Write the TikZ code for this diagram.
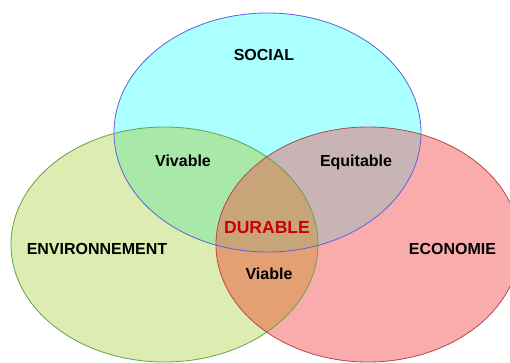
\documentclass[tikz,border=0pt]{standalone}
\usepackage{fontspec}
\setmainfont{Liberation Sans}
\definecolor{socfill}{RGB}{170,255,255}
\definecolor{envfill}{RGB}{221,236,176}
\definecolor{ecofill}{RGB}{250,172,172}
\definecolor{vivfill}{RGB}{168,232,168}
\definecolor{equfill}{RGB}{200,180,180}
\definecolor{viafill}{RGB}{228,160,115}
\definecolor{durfill}{RGB}{200,165,120}
\definecolor{socline}{RGB}{95,95,225}
\definecolor{envline}{RGB}{95,165,75}
\definecolor{ecoline}{RGB}{175,75,75}
\definecolor{durtext}{RGB}{205,0,0}
\begin{document}
\begin{tikzpicture}[x=1pt,y=1pt,
  lbl/.style={font=\bfseries\fontsize{16}{16}\selectfont, inner sep=0pt, text height=11.5pt, text depth=0pt},
  rim/.style={line width=0.8pt}]
\useasboundingbox (0,0) rectangle (510,362);
\coordinate (S) at (267.5,229.5);
\coordinate (Env) at (164.5,117.5);
\coordinate (Eco) at (368,117.5);
\def\soc{(S) ellipse [x radius=153.5pt, y radius=119.5pt]}
\def\env{(Env) ellipse [x radius=153.5pt, y radius=117.5pt]}
\def\eco{(Eco) ellipse [x radius=152pt, y radius=117.5pt]}
% plain areas
\fill[socfill] \soc;
\fill[envfill] \env;
\fill[ecofill] \eco;
% overlaps
\begin{scope} \clip \soc; \fill[vivfill] \env; \end{scope}
\begin{scope} \clip \soc; \fill[equfill] \eco; \end{scope}
\begin{scope} \clip \env; \fill[viafill] \eco; \end{scope}
\begin{scope} \clip \soc; \clip \env; \fill[durfill] \eco; \end{scope}
% rims
\draw[rim, envline] \env;
\draw[rim, ecoline] \eco;
\draw[rim, socline] \soc;
% labels
\node[lbl] (social) at (264,307) {SOCIAL};
\node[lbl] (environ) at (97,113) {ENVIRONNEMENT};
\node[lbl] (econ) at (452.5,113) {ECONOMIE};
\node[lbl] (vivable) at (183,201) {Vivable};
\node[lbl] (equitable) at (356,201) {Equitable};
\node[lbl] (viable) at (269,88) {Viable};
\node[lbl, font=\bfseries\fontsize{17.5}{17.5}\selectfont, text height=12.5pt, durtext] (durable) at (267,135) {DURABLE};
\end{tikzpicture}
\end{document}
